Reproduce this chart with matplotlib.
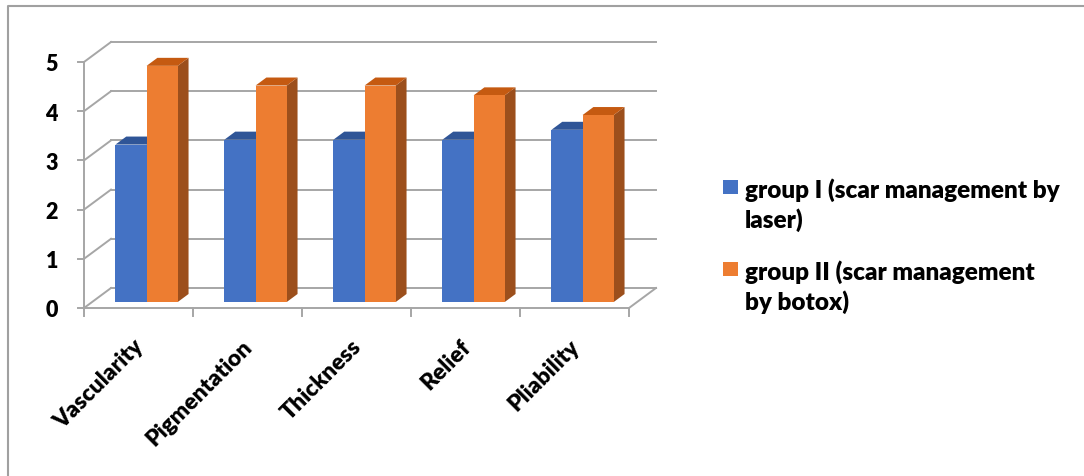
import matplotlib
matplotlib.use('Agg')
import matplotlib.pyplot as plt
from matplotlib.patches import Polygon
from matplotlib.lines import Line2D

categories = ['Vascularity', 'Pigmentation', 'Thickness', 'Relief', 'Pliability']
group1 = [3.2, 3.3, 3.3, 3.3, 3.5]
group2 = [4.8, 4.4, 4.4, 4.2, 3.8]
series_names = [['group I (scar management by', 'laser)'],
                ['group II (scar management', 'by botox)']]
y_ticks = [0, 1, 2, 3, 4, 5]

plt.rcParams['font.family'] = ['Lato', 'DejaVu Sans']

W, H = 1084, 477
# pixel layout of the front plane of the plot
PX0, PY0 = 84, 309
SX, SY = 109.0, 49.2
DX, DY = 27 / SX, 20 / SY          # depth of the 3d box in data units
GRID = '#a6a6a6'

front = {'blue': '#4472c4', 'orange': '#ed7d31'}
top = {'blue': '#2f5597', 'orange': '#c55a11'}
side = {'blue': '#2a4d8f', 'orange': '#9c4f1c'}


def px(n):
    return n / SX


def py(n):
    return n / SY


fig = plt.figure(figsize=(W / 100, H / 100), dpi=100)
ax = fig.add_axes([0, 0, 1, 1])
ax.set_xlim(-PX0 / SX, (W - PX0) / SX)
ax.set_ylim(-(H - PY0) / SY, PY0 / SY)
ax.axis('off')

# back wall grid + left wall diagonals
for v in y_ticks:
    ax.plot([DX, len(categories) + DX], [v + DY, v + DY], color=GRID, lw=1.4, zorder=1)
    ax.plot([0, DX], [v, v + DY], color=GRID, lw=1.4, zorder=1)
    ax.plot([-px(6), 0], [v, v], color=GRID, lw=1.4, zorder=1)
    ax.text(-px(26), v - py(2), str(v), ha='right', va='center', fontsize=15.5,
            fontweight='heavy', color='black')

# front axis and floor
n = len(categories)
ax.plot([0, 0], [0, y_ticks[-1]], color=GRID, lw=1.4, zorder=1)
ax.plot([0, n], [0, 0], color=GRID, lw=1.4, zorder=1)
ax.plot([n, n + DX], [0, DY], color=GRID, lw=1.4, zorder=1)
for i in range(n + 1):
    ax.plot([i, i], [0, -py(8)], color=GRID, lw=1.4, zorder=1)

# bars (gap width 150%, bars sit between 30% and 70% of the depth)
w = 1 / 3.5
d0, d1 = 0.3, 0.7
bdx, bdy = (d1 - d0) * DX, (d1 - d0) * DY
for i in range(n):
    for s, (vals, c) in enumerate([(group1, 'blue'), (group2, 'orange')]):
        x0 = i + d0 * DX + 0.75 * w + s * w
        y0 = d0 * DY
        y1 = y0 + vals[i]
        z = 3 + s
        ax.add_patch(Polygon([(x0 + w, y0), (x0 + w + bdx, y0 + bdy),
                              (x0 + w + bdx, y1 + bdy), (x0 + w, y1)],
                             closed=True, fc=side[c], ec='none', zorder=z))
        ax.add_patch(Polygon([(x0, y1), (x0 + bdx, y1 + bdy),
                              (x0 + w + bdx, y1 + bdy), (x0 + w, y1)],
                             closed=True, fc=top[c], ec='none', zorder=z))
        ax.add_patch(Polygon([(x0, y0), (x0 + w, y0), (x0 + w, y1), (x0, y1)],
                             closed=True, fc=front[c], ec='none', zorder=z))

# category labels
for i, cat in enumerate(categories):
    ax.text(i + 0.5 - px(6), -py(27), cat, rotation=45, rotation_mode='anchor',
            ha='right', va='top', fontsize=16.5, fontweight='heavy', color='black')

# legend
for s, (lines, c) in enumerate(zip(series_names, ['blue', 'orange'])):
    ysq, ybase = [(181, 198), (263, 280)][s]
    fig.patches.append(plt.Rectangle((723 / W, 1 - (ysq + 14) / H), 15 / W, 14 / H,
                                     transform=fig.transFigure, fc=front[c], ec='none'))
    for k, line in enumerate(lines):
        fig.text(745 / W, 1 - (ybase + 30 * k) / H, line, ha='left', va='baseline',
                 fontsize=17.5, fontweight='heavy')

# chart border (top and left edges visible)
fig.add_artist(Line2D([8 / W, 8 / W, 1], [0, 1 - 6.5 / H, 1 - 6.5 / H],
                      transform=fig.transFigure, color='#a0a0a0', lw=1.5))

fig.savefig('out.png', dpi=100)
